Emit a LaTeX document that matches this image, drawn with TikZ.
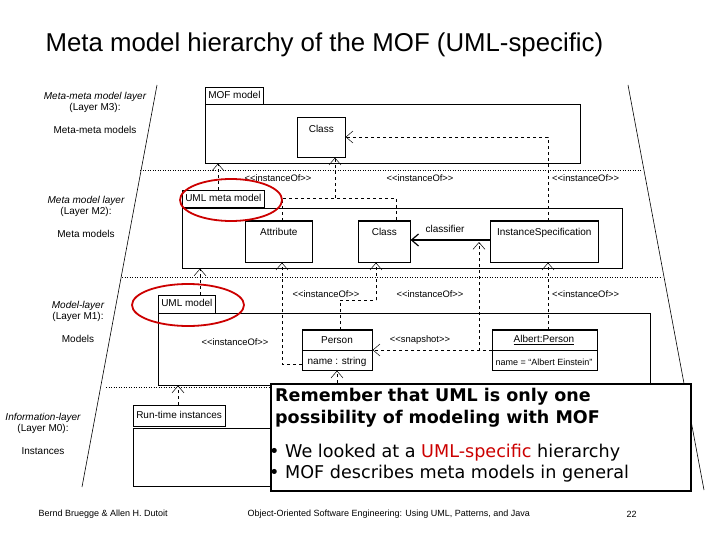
\documentclass[tikz,border=0pt]{standalone}
\usepackage{fontspec}
\setmainfont{Liberation Sans}
\newfontfamily\calloutfont{DejaVu Sans}
\usetikzlibrary{positioning,arrows.meta,shapes.geometric}

\newcommand{\io}{<\kern0pt<instanceOf>\kern0pt>}

\begin{document}
\begin{tikzpicture}[x=1pt, y=-1pt,
    pkg/.style={draw, anchor=north west, inner sep=0pt, line width=0.5pt},
    tab/.style={draw, anchor=north west, inner xsep=3pt, inner ysep=4pt, font=\fontsize{10}{10}\selectfont, text height=7.5pt, text depth=2pt, line width=0.5pt},
    cls/.style={draw, anchor=north west, inner sep=0pt, line width=0.6pt, font=\fontsize{10}{10}\selectfont},
    inst/.style={dashed, line width=0.5pt, -{Straight Barb[length=7pt, width=12pt]}},
    stereo/.style={font=\fontsize{9.4}{10}\selectfont, inner sep=1pt},
    layer/.style={font=\fontsize{10}{11}\selectfont, align=center},
    sep/.style={dotted, line width=0.5pt},
    ring/.style={draw=red!80!black, line width=1.8pt, ellipse, inner sep=0pt},
    foot/.style={font=\fontsize{9}{10}\selectfont, anchor=west}
  ]
    \useasboundingbox (0,0) rectangle (720,540);

    %--- Title
    \node[anchor=west, font=\fontsize{25.8}{28}\selectfont] (title) at (42,45) {Meta model hierarchy of the MOF (UML-specific)};

    %--- Trapezoid and layer separators
    \draw[line width=0.6pt] (157,85) -- (82,487);
    \draw[line width=0.6pt] (628,85) -- (704,490);
    \draw[sep] (140,170) -- (642,170);
    \draw[sep] (122,277) -- (662,277);
    \draw[sep] (106,387) -- (683,387);

    %--- Layer labels
    \node[layer] (m3) at (95,102) {\itshape Meta-meta model layer\\(Layer M3):};
    \node[layer] (m3n) at (95,130) {Meta-meta models};
    \node[layer] (m2) at (86,206) {\itshape Meta model layer\\(Layer M2):};
    \node[layer] (m2n) at (86,234) {Meta models};
    \node[layer] (m1) at (78,311) {\itshape Model-layer\\(Layer M1):};
    \node[layer] (m1n) at (78,339) {Models};
    \node[layer] (m0) at (43,423) {\itshape Information-layer\\(Layer M0):};
    \node[layer] (m0n) at (43,451) {Instances};

    %--- M3
    \node[tab] (mofTab) at (205,87) {MOF model};
    \node[pkg, minimum width=375pt, minimum height=59pt] (mof) at (205,104) {};
    \node[cls, minimum width=48pt, minimum height=40pt, text depth=16pt] (mofClass) at (297,117) {Class};

    %--- M2
    \node[tab] (umlMetaTab) at (182,190) {UML meta model};
    \node[pkg, minimum width=440pt, minimum height=60pt] (umlMeta) at (182,208) {};
    \node[cls, minimum width=67pt, minimum height=41pt, text depth=19pt] (attr) at (245,221) {Attribute};
    \node[cls, minimum width=52pt, minimum height=41pt, text depth=19pt] (cls2) at (358,221) {Class};
    \node[cls, minimum width=108pt, minimum height=41pt, text depth=19pt] (inSpec) at (490,221) {InstanceSpecification};
    \foreach \n in {attr, cls2, inSpec}
      \draw[line width=1.4pt] (\n.north west) -- (\n.north east);
    \draw[line width=1.2pt, -{Straight Barb[length=7pt, width=12pt]}] (inSpec.west |- 0,240) -- (cls2.east |- 0,240);
    \node[stereo, font=\fontsize{10}{10}\selectfont] (classifier) at (445,229) {classifier};

    %--- M1
    \node[tab] (umlTab) at (158,295) {UML model};
    \node[pkg, minimum width=492pt, minimum height=72pt] (uml) at (158,313) {};
    \node[cls, minimum width=70pt, minimum height=40pt] (person) at (302,330) {};
    \draw[line width=1.4pt] (person.north west) -- (person.north east);
    \draw[line width=0.8pt] (302,350) -- (372,350);
    \node[font=\fontsize{10}{10}\selectfont] (personName) at (337,340) {Person};
    \node[font=\fontsize{10}{10}\selectfont] (personAttr) at (337,362) {name : string};
    \node[cls, minimum width=105pt, minimum height=40pt] (albert) at (492,330) {};
    \draw[line width=1.4pt] (albert.north west) -- (albert.north east);
    \draw[line width=0.8pt] (492,350) -- (597,350);
    \node[font=\fontsize{10}{10}\selectfont] (albertName) at (544,340) {\underline{Albert:Person}};
    \node[font=\fontsize{9}{10}\selectfont] (albertAttr) at (544,362) {name = ``Albert Einstein''};

    %--- M0
    \node[tab, inner ysep=5.5pt] (rtTab) at (133,405) {Run-time instances};
    \node[pkg, minimum width=140pt, minimum height=58pt] (rt) at (133,428) {};

    %--- instanceOf connectors
    \draw[inst] (umlMetaTab.north -| 218,0) -- (mof.south -| 218,0);
    \draw[dashed] (attr.north -| 282,0) |- (335,198) coordinate (join) -| (cls2.north -| 396,0);
    \draw[inst] (join) -- (mofClass.south -| 335,0);
    \draw[inst] (inSpec.north -| 548,0) |- (mofClass.east |- 0,137);
    \draw[inst] (umlTab.north -| 200,0) -- (umlMeta.south -| 200,0);
    \draw[inst] (302,364) -| (attr.south -| 282,0);
    \draw[dashed] (person.north -| 340,0) |- (376,300) coordinate (clsUp);
    \draw[inst] (clsUp) -- (cls2.south -| 376,0);
    \draw[inst] (albert.north -| 548,0) -- (inSpec.south -| 548,0);
    \draw[inst] (albert.west |- 0,350) -| (479,242);
    \draw[inst] (albert.west |- 0,350) -- (person.east |- 0,350);
    \draw[inst] (337,395) -- (person.south -| 337,0);
    \draw[inst] (rtTab.north -| 178,0) -- (uml.south -| 178,0);

    \node[stereo] (io1) at (278,178) {\io};
    \node[stereo] (io2) at (420,178) {\io};
    \node[stereo, anchor=west] (io3) at (551,178) {\io};
    \node[stereo] (io4) at (326,294) {\io};
    \node[stereo] (io5) at (430,294) {\io};
    \node[stereo, anchor=west] (io6) at (551,294) {\io};
    \node[stereo] (io7) at (235,342) {\io};
    \node[stereo] (snap) at (420,340) {<\kern0pt<snapshot>\kern0pt>};

    %--- Red highlight rings
    \node[ring, minimum width=102pt, minimum height=42pt] (ringM2) at (231,200) {};
    \node[ring, minimum width=112pt, minimum height=42pt] (ringM1) at (188,305) {};

    %--- Callout
    \node[draw, line width=2pt, fill=white, anchor=north west, minimum width=420pt, minimum height=107pt] (callout) at (270,383) {};
    \node[anchor=north west, align=left, font=\calloutfont\bfseries\fontsize{17.5}{22}\selectfont, inner sep=0pt] (remember) at (275,388) {Remember that UML is only one\\possibility of modeling with MOF};
    \node[anchor=north west, align=left, font=\calloutfont\fontsize{17.6}{21}\selectfont, inner sep=0pt] (bullets) at (269,444) {\textbullet{} We looked at a \textcolor{red!80!black}{UML-specific} hierarchy\\\textbullet{} MOF describes meta models in general};

    %--- Footer
    \node[foot] (f1) at (35,514) {Bernd Bruegge \& Allen H. Dutoit};
    \node[foot] (f2) at (244,514) {Object-Oriented Software Engineering: Using UML, Patterns, and Java};
    \node[foot] (f3) at (623,514) {22};
\end{tikzpicture}
\end{document}
